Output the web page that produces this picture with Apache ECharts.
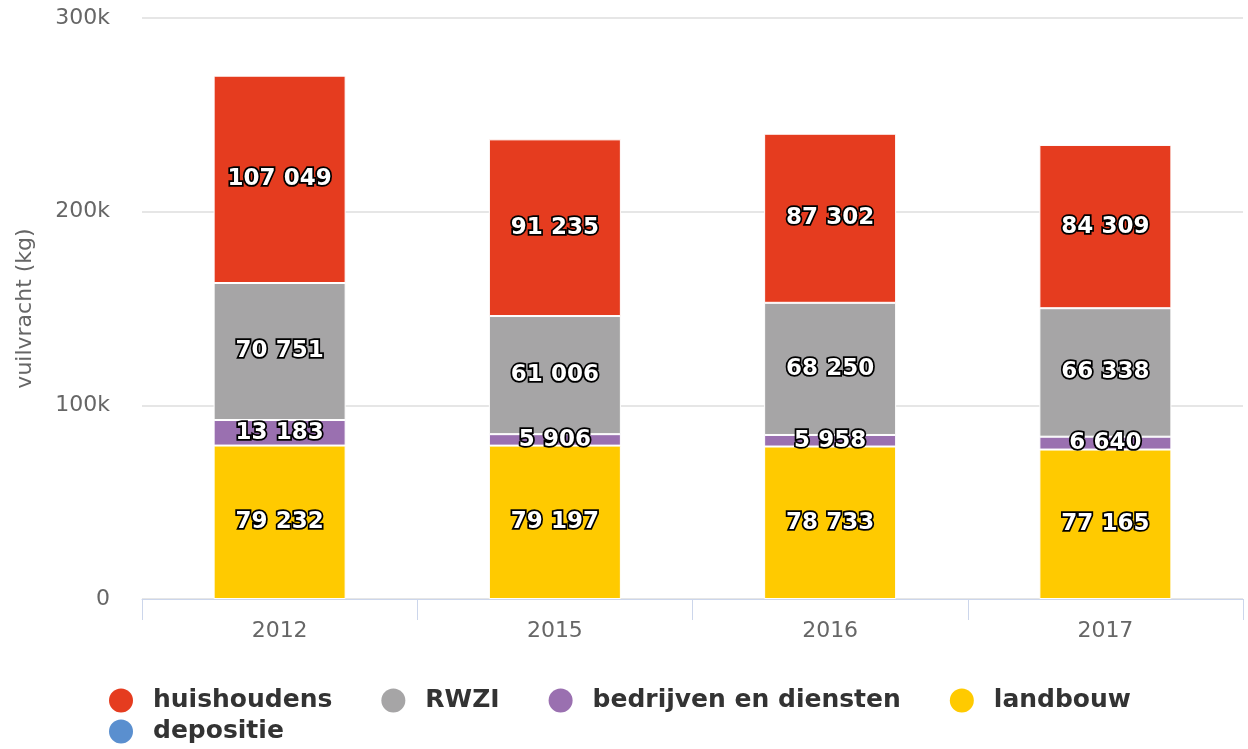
<!DOCTYPE html>
<html>
<head>
<meta charset="utf-8">
<script src="https://cdn.jsdelivr.net/npm/echarts@6/dist/echarts.min.js"></script>
<style>
html,body{margin:0;padding:0;background:#fff;}
#chart{width:1248px;height:749px;}
</style>
</head>
<body>
<div id="chart"></div>
<script>
const categories = ['2012', '2015', '2016', '2017'];
const huishoudens = [107049, 91235, 87302, 84309];
const rwzi = [70751, 61006, 68250, 66338];
const bedrijven = [13183, 5906, 5958, 6640];
const landbouw = [79232, 79197, 78733, 77165];
const depositie = [null, null, null, null];
const yTicks = [0, 100000, 200000, 300000];

const FONT = 'DejaVu Sans';
const colors = {
  huishoudens: '#e53c1f',
  RWZI: '#a6a5a6',
  bedrijven: '#9a70b0',
  landbouw: '#ffca00',
  depositie: '#5a8fcf'
};

function fmt(v) {
  return String(v).replace(/\B(?=(\d{3})+(?!\d))/g, ' ');
}

const labelCfg = {
  show: true,
  position: 'inside',
  fontFamily: FONT,
  fontSize: 23,
  fontWeight: 'bold',
  color: '#fff',
  textBorderColor: '#000',
  textBorderWidth: 3.5,
  formatter: p => (p.value == null ? '' : fmt(p.value))
};

function bar(name, data, color) {
  return {
    name: name,
    type: 'bar',
    stack: 'total',
    data: data,
    barWidth: 132,
    itemStyle: { color: color, borderColor: '#fff', borderWidth: 1 },
    label: labelCfg,
    emphasis: { disabled: true }
  };
}

const legendCommon = {
  icon: 'circle',
  itemWidth: 48,
  itemHeight: 24,
  itemGap: 49,
  padding: 0,
  left: 109,
  itemStyle: { borderWidth: 0 },
  textStyle: { fontFamily: FONT, fontSize: 25, fontWeight: 'bold', color: '#333', padding: [0, 0, 0, 3] },
  selectedMode: false
};

const chart = echarts.init(document.getElementById('chart'), null, { renderer: 'canvas' });
chart.setOption({
  animation: false,
  grid: { left: 142, right: 5, top: 18, bottom: 150 },
  legend: [
    Object.assign({}, legendCommon, { top: 688, data: ['huishoudens', 'RWZI', 'bedrijven en diensten', 'landbouw'] }),
    Object.assign({}, legendCommon, { top: 719, data: ['depositie'] })
  ],
  xAxis: {
    type: 'category',
    data: categories,
    axisLine: { lineStyle: { color: '#ccd6eb', width: 1 } },
    axisTick: { show: true, length: 21, lineStyle: { color: '#ccd6eb' } },
    axisLabel: { fontFamily: FONT, fontSize: 22, color: '#666', margin: 21 }
  },
  yAxis: {
    type: 'value',
    min: yTicks[0],
    max: yTicks[yTicks.length - 1],
    interval: yTicks[1] - yTicks[0],
    name: 'vuilvracht (kg)',
    nameLocation: 'middle',
    nameGap: 106,
    nameTextStyle: { fontFamily: FONT, fontSize: 22, color: '#666' },
    axisLine: { show: false },
    axisTick: { show: false },
    axisLabel: {
      fontFamily: FONT, fontSize: 22, color: '#666', margin: 32,
      padding: [4, 0, 0, 0],
      formatter: v => (v === 0 ? '0' : (v / 1000) + 'k')
    },
    splitLine: { lineStyle: { color: '#e6e6e6', width: 2 } }
  },
  series: [
    bar('depositie', depositie, colors.depositie),
    bar('landbouw', landbouw, colors.landbouw),
    bar('bedrijven en diensten', bedrijven, colors.bedrijven),
    bar('RWZI', rwzi, colors.RWZI),
    bar('huishoudens', huishoudens, colors.huishoudens)
  ]
});
</script>
</body>
</html>
